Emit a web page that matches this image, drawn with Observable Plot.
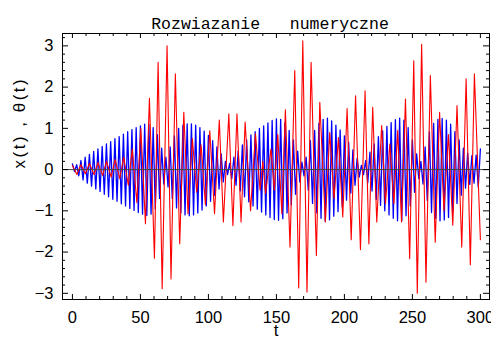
<!DOCTYPE html>
<html>
<head>
<meta charset="utf-8">
<script src="https://cdn.jsdelivr.net/npm/d3@7"></script>
<script src="https://cdn.jsdelivr.net/npm/@observablehq/plot@0.6"></script>
<style>
  body { margin: 0; background: #fff; }
  svg text { white-space: pre; }
</style>
</head>
<body>
<div id="chart"></div>
<script>
// Numerical solution of the coupled system: x(t) (blue) and θ(t) (red).
const title = "Rozwiazanie   numeryczne";
const xLabel = "t";
const yLabel = "x(t) , θ(t)";
const xTicks = [0, 50, 100, 150, 200, 250, 300];
const yTicks = [-3, -2, -1, 0, 1, 2, 3];

// x(t): successive turning points, one every half period (blueStep in t)
const blueStep = 1.5625;
const xValues = [
  0.14, -0.05, 0.12, -0.15, 0.22, -0.25, 0.3, -0.33, 0.37, -0.4,
  0.44, -0.47, 0.5, -0.53, 0.56, -0.6, 0.62, -0.66, 0.68, -0.72,
  0.75, -0.77, 0.8, -0.83, 0.86, -0.88, 0.92, -0.94, 0.97, -0.99,
  1.02, -1.04, 1.06, -1.08, 1.1, -1.11, 1.1, -1.08, 1.02, -0.95,
  0.85, -0.7, 0.52, -0.35, 0.3, -0.42, 0.55, -0.7, 0.82, -0.93,
  1.0, -1.05, 1.08, -1.1, 1.11, -1.12, 1.11, -1.1, 1.08, -1.05,
  1.02, -0.98, 0.93, -0.88, 0.83, -0.77, 0.7, -0.63, 0.55, -0.47,
  0.38, -0.3, 0.2, -0.12, 0.15, -0.22, 0.3, -0.38, 0.45, -0.52,
  0.6, -0.66, 0.72, -0.78, 0.84, -0.88, 0.92, -0.96, 1.0, -1.03,
  1.06, -1.1, 1.13, -1.16, 1.19, -1.21, 1.23, -1.23, 1.22, -1.19,
  1.13, -1.05, 0.95, -0.85, 0.72, -0.6, 0.45, -0.3, 0.18, -0.15,
  0.3, -0.5, 0.7, -0.82, 0.95, -1.05, 1.12, -1.18, 1.22, -1.25,
  1.25, -1.22, 1.18, -1.13, 1.08, -1.02, 0.96, -0.9, 0.82, -0.74,
  0.66, -0.57, 0.48, -0.38, 0.28, -0.18, 0.1, -0.12, 0.22, -0.32,
  0.42, -0.52, 0.62, -0.72, 0.8, -0.87, 0.94, -1.0, 1.05, -1.1,
  1.14, -1.18, 1.21, -1.24, 1.25, -1.24, 1.2, -1.12, 1.02, -0.88,
  0.72, -0.55, 0.38, -0.22, 0.2, -0.35, 0.55, -0.75, 0.92, -1.04,
  1.12, -1.18, 1.22, -1.24, 1.24, -1.22, 1.2, -1.16, 1.1, -1.02,
  0.92, -0.82, 0.72, -0.62, 0.52, -0.45, 0.4, -0.36, 0.34, -0.33,
  0.35, -0.42, 0.5
];

// θ(t): turning points (time, value)
const thetaT = [
  0, 3.3, 6.2, 9.6, 12.5, 15.9, 18.8, 22.2, 25.1, 28.5,
  31.4, 34.8, 37.7, 41.1, 44.0, 47.4, 50.3, 53.7, 56.6, 60.3,
  63.0, 66.0, 69.6, 72.5, 75.7, 78.9, 81.9, 85.0, 88.2, 91.4,
  94.6, 97.8, 101.0, 104.5, 108.0, 111.0, 115.0, 118.0, 121.0, 124.0,
  127.0, 131.0, 134.6, 138.0, 140.0, 142.0, 146.0, 148.5, 151.0, 154.0,
  156.6, 160.0, 163.5, 166.4, 169.4, 172.5, 175.5, 179.4, 181.9, 186.0,
  189.2, 192.4, 195.6, 198.8, 202.0, 205.0, 208.2, 211.8, 215.2, 218.0,
  220.8, 223.8, 227.4, 230.2, 233.4, 236.4, 239.2, 242.0, 244.9, 248.0,
  251.0, 253.6, 256.8, 260.0, 263.2, 266.8, 270.0, 273.2, 276.5, 279.7,
  282.8, 286.3, 289.5, 292.6, 295.6, 300.0
];
const thetaV = [
  0.1, -0.12, 0.12, -0.1, 0.15, -0.12, 0.17, -0.14, 0.2, -0.18,
  0.24, -0.22, 0.3, -0.38, 0.5, -0.8, 1.0, -1.31, 1.73, -2.15,
  2.6, -2.89, 3.0, -2.65, 2.32, -1.8, 1.39, -1.07, 0.75, -0.55,
  0.6, -0.85, 0.94, -1.07, 1.2, -1.27, 1.35, -1.36, 1.35, -1.27,
  1.15, -1.0, 0.87, -0.5, 0.2, -0.58, 0.5, -0.5, 0.85, -1.07,
  1.45, -1.88, 2.4, -2.87, 3.12, -2.97, 2.6, -2.08, 1.63, -1.27,
  0.9, -0.7, 0.78, -1.15, 1.48, -1.7, 1.79, -1.94, 1.91, -1.8,
  1.51, -1.27, 1.07, -0.83, 0.62, -0.83, 0.95, -1.27, 1.71, -2.16,
  2.64, -3.0, 3.04, -2.73, 2.28, -1.76, 1.39, -1.0, 0.85, -1.35,
  1.55, -1.88, 2.2, -2.31, 2.32, -1.7
];

const xSeries = xValues.map((v, i) => ({t: i * blueStep, v}));
const thetaSeries = thetaT.map((t, i) => ({t, v: thetaV[i]}));

const W = 491, H = 343;
const mTop = 33, mBottom = 44, mLeft = 62, mRight = 2;
const innerW = W - mLeft - mRight, innerH = H - mTop - mBottom;
const majorLen = 5, minorLen = 3;

const xMinor = d3.range(10, 301, 10).filter(d => d % 50 !== 0);
const yMinor = d3.range(-30, 33, 2).map(d => d / 10).filter(d => !Number.isInteger(d));

const tickMarks = [];
for (const [vals, len] of [[xTicks, majorLen], [xMinor, minorLen]]) {
  tickMarks.push(Plot.tickX(vals, {x: d => d, insetTop: innerH - len, stroke: "black"}));
  tickMarks.push(Plot.tickX(vals, {x: d => d, insetBottom: innerH - len, stroke: "black"}));
}
for (const [vals, len] of [[yTicks, majorLen + 1], [yMinor, minorLen]]) {
  tickMarks.push(Plot.tickY(vals, {y: d => d, insetRight: innerW - len, stroke: "black"}));
  tickMarks.push(Plot.tickY(vals, {y: d => d, insetLeft: innerW - len, stroke: "black"}));
}

const fmt = d => (d < 0 ? "\u2212" : "") + Math.abs(d);

const chart = Plot.plot({
  width: W,
  height: H,
  marginTop: mTop,
  marginBottom: mBottom,
  marginLeft: mLeft,
  marginRight: mRight,
  style: {fontFamily: "Liberation Sans", fontSize: "16.5px", background: "#fff", color: "#000", overflow: "visible"},
  x: {domain: [-7.3, 306.7], ticks: xTicks, tickFormat: fmt, tickSize: 0, tickPadding: 12, label: null},
  y: {domain: [-3.15, 3.3], ticks: yTicks, tickFormat: fmt, tickSize: 0, tickPadding: 9, label: null},
  marks: [
    Plot.line(xSeries, {x: "t", y: "v", stroke: "#0000ff", strokeWidth: 1.3}),
    Plot.line(thetaSeries, {x: "t", y: "v", stroke: "#ff0000", strokeWidth: 1.1}),
    Plot.ruleY([0], {stroke: "#444", strokeWidth: 1}),
    Plot.frame({stroke: "black", strokeWidth: 1}),
    ...tickMarks,
    Plot.text([title], {frameAnchor: "top", dy: -16, dx: -6, fontFamily: "Liberation Mono", fontSize: 16.5}),
    Plot.text([xLabel], {frameAnchor: "bottom", dy: 36, fontSize: 17}),
    Plot.text([yLabel], {frameAnchor: "left", dx: -43, dy: 2, rotate: -90, fontSize: 17})
  ]
});
// widen the spacing of the vertical axis title
for (const el of chart.querySelectorAll("text")) {
  if (el.textContent === yLabel) el.style.letterSpacing = "2.5px";
}
document.getElementById("chart").append(chart);
</script>
</body>
</html>
